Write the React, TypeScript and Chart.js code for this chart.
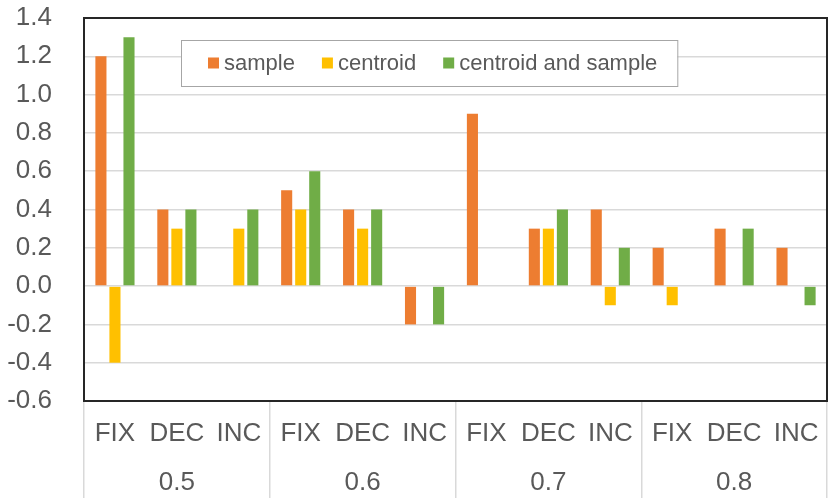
import { useEffect, useRef } from "react";
import { Chart, registerables } from "chart.js";

Chart.register(...registerables);

const methods = ["FIX", "DEC", "INC"];
const groups = ["0.5", "0.6", "0.7", "0.8"];
const categories = groups.flatMap(() => methods);

const sample = [1.2, 0.4, 0, 0.5, 0.4, -0.2, 0.9, 0.3, 0.4, 0.2, 0.3, 0.2];
const centroid = [-0.4, 0.3, 0.3, 0.4, 0.3, 0, 0, 0.3, -0.1, -0.1, 0, 0];
const centroidAndSample = [1.3, 0.4, 0.4, 0.6, 0.4, -0.2, 0, 0.4, 0.2, 0, 0.3, -0.1];

const FONT = "'Liberation Sans', Arial, sans-serif";
const TEXT = "#595959";
const GRID = "#d9d9d9";
const FRAME = "#262626";

// black frame around the plot area
const framePlugin = {
  id: "frame",
  afterDraw(chart: any) {
    const { ctx, chartArea: a } = chart;
    ctx.save();
    ctx.strokeStyle = FRAME;
    ctx.lineWidth = 2;
    ctx.strokeRect(a.left, a.top, a.right - a.left, a.bottom - a.top);
    ctx.restore();
  },
};

// boxed legend sitting inside the plot area
const boxLegendPlugin = {
  id: "boxLegend",
  afterDraw(chart: any) {
    const { ctx, chartArea: a } = chart;
    const left = a.left + 97;
    const top = a.top + 22;
    const h = 46;
    const sq = 11;
    ctx.save();
    ctx.font = `22px ${FONT}`;
    const items = chart.data.datasets.map((d: any) => ({
      label: d.label,
      color: d.backgroundColor,
      w: ctx.measureText(d.label).width,
    }));
    let width = 27 + 20;
    items.forEach((it: any, i: number) => {
      width += sq + 5 + it.w + (i < items.length - 1 ? 27 : 0);
    });
    ctx.fillStyle = "#ffffff";
    ctx.fillRect(left, top, width, h);
    ctx.strokeStyle = "#a6a6a6";
    ctx.lineWidth = 1;
    ctx.strokeRect(left + 0.5, top + 0.5, width, h);
    const cy = top + h / 2;
    let x = left + 27;
    ctx.textBaseline = "middle";
    items.forEach((it: any) => {
      ctx.fillStyle = it.color;
      ctx.fillRect(x, cy - sq / 2, sq, sq);
      x += sq + 5;
      ctx.fillStyle = TEXT;
      ctx.fillText(it.label, x, cy + 1);
      x += it.w + 27;
    });
    ctx.restore();
  },
};

export default function App() {
  const canvasRef = useRef<HTMLCanvasElement | null>(null);

  useEffect(() => {
    document.body.style.margin = "0";
    if (!canvasRef.current) return;

    const chart = new Chart(canvasRef.current, {
      type: "bar",
      data: {
        labels: categories,
        datasets: [
          { label: "sample", data: sample, backgroundColor: "#ED7D31" },
          { label: "centroid", data: centroid, backgroundColor: "#FFC000" },
          { label: "centroid and sample", data: centroidAndSample, backgroundColor: "#70AD47" },
        ],
      },
      options: {
        responsive: true,
        maintainAspectRatio: false,
        animation: false,
        layout: { padding: { left: 0, right: 3, top: 18, bottom: 0 } },
        datasets: {
          bar: { categoryPercentage: 0.68, barPercentage: 0.79, borderWidth: 0 },
        },
        plugins: {
          legend: { display: false },
          tooltip: { enabled: false },
        },
        scales: {
          x: {
            type: "category",
            position: "bottom",
            weight: 1,
            offset: true,
            afterFit: (s: any) => {
              s.height = 57;
            },
            border: { display: true, color: FRAME, width: 2 },
            grid: {
              offset: true,
              drawOnChartArea: false,
              drawTicks: true,
              tickLength: 57,
              lineWidth: 1.5,
              color: (c: any) =>
                c.index === undefined || c.index % 3 === 0 ? GRID : "rgba(0,0,0,0)",
            },
            ticks: {
              autoSkip: false,
              maxRotation: 0,
              padding: -40,
              color: TEXT,
              font: { family: FONT, size: 26 },
            },
          },
          x2: {
            type: "category",
            labels: groups,
            position: "bottom",
            weight: 2,
            offset: true,
            afterFit: (s: any) => {
              s.height = 40;
            },
            border: { display: false },
            grid: {
              offset: true,
              drawOnChartArea: false,
              drawTicks: true,
              tickLength: 40,
              lineWidth: 1.5,
              color: GRID,
            },
            ticks: {
              autoSkip: false,
              maxRotation: 0,
              padding: -31,
              color: TEXT,
              font: { family: FONT, size: 26 },
            },
          },
          y: {
            min: -0.6,
            max: 1.4,
            afterFit: (s: any) => {
              s.width = 84;
              s.paddingTop = 0;
              s.paddingBottom = 0;
            },
            border: { display: true, color: FRAME, width: 2 },
            grid: { color: GRID, lineWidth: 1.5, drawTicks: false },
            ticks: {
              stepSize: 0.2,
              padding: 32,
              color: TEXT,
              font: { family: FONT, size: 26 },
              callback: (v: any) => {
                const n = Math.abs(Number(v)) < 1e-9 ? 0 : Number(v);
                return n.toFixed(1);
              },
            },
          },
        },
      },
      plugins: [framePlugin, boxLegendPlugin],
    });

    return () => chart.destroy();
  }, []);

  return (
    <div style={{ position: "relative", width: 830, height: 498 }}>
      <canvas ref={canvasRef} />
    </div>
  );
}
